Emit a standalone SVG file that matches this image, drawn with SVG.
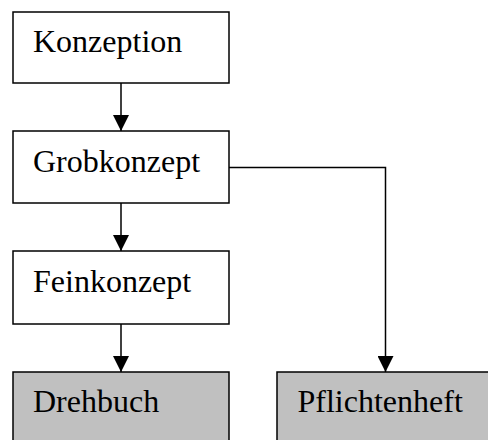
<svg xmlns="http://www.w3.org/2000/svg" width="488" height="440" viewBox="0 0 488 440">
<style>
.box{fill:#fff;stroke:#000;stroke-width:1.5}
.out{fill:#c0c0c0;stroke:#000;stroke-width:1.5}
.lbl{font-family:"Liberation Serif","Times New Roman",serif;font-size:32px;fill:#000}
.con{fill:none;stroke:#000;stroke-width:1.5}
</style>
<defs>
<marker id="ah" markerWidth="16" markerHeight="16" refX="16" refY="8" orient="auto" markerUnits="userSpaceOnUse">
<path d="M0,0 L16,8 L0,16 Z" fill="#000"/>
</marker>
</defs>
<g id="connectors">
<line class="con" x1="121" y1="83" x2="121" y2="131" marker-end="url(#ah)"/>
<line class="con" x1="121" y1="203" x2="121" y2="251" marker-end="url(#ah)"/>
<line class="con" x1="121" y1="324" x2="121" y2="372" marker-end="url(#ah)"/>
<polyline class="con" points="229,167.5 385.5,167.5 385.5,372" marker-end="url(#ah)"/>
</g>
<g id="konzeption"><rect class="box" x="13" y="12" width="216" height="71"/><text class="lbl" x="33" y="52">Konzeption</text></g>
<g id="grobkonzept"><rect class="box" x="13" y="131" width="216" height="72"/><text class="lbl" x="33" y="171.5">Grobkonzept</text></g>
<g id="feinkonzept"><rect class="box" x="13" y="251" width="216" height="73"/><text class="lbl" x="33" y="291.5">Feinkonzept</text></g>
<g id="drehbuch"><rect class="out" x="13" y="372" width="216" height="72"/><text class="lbl" x="33" y="411.5">Drehbuch</text></g>
<g id="pflichtenheft"><rect class="out" x="277" y="372" width="216" height="72"/><text class="lbl" x="297.5" y="411.5">Pflichtenheft</text></g>
</svg>
